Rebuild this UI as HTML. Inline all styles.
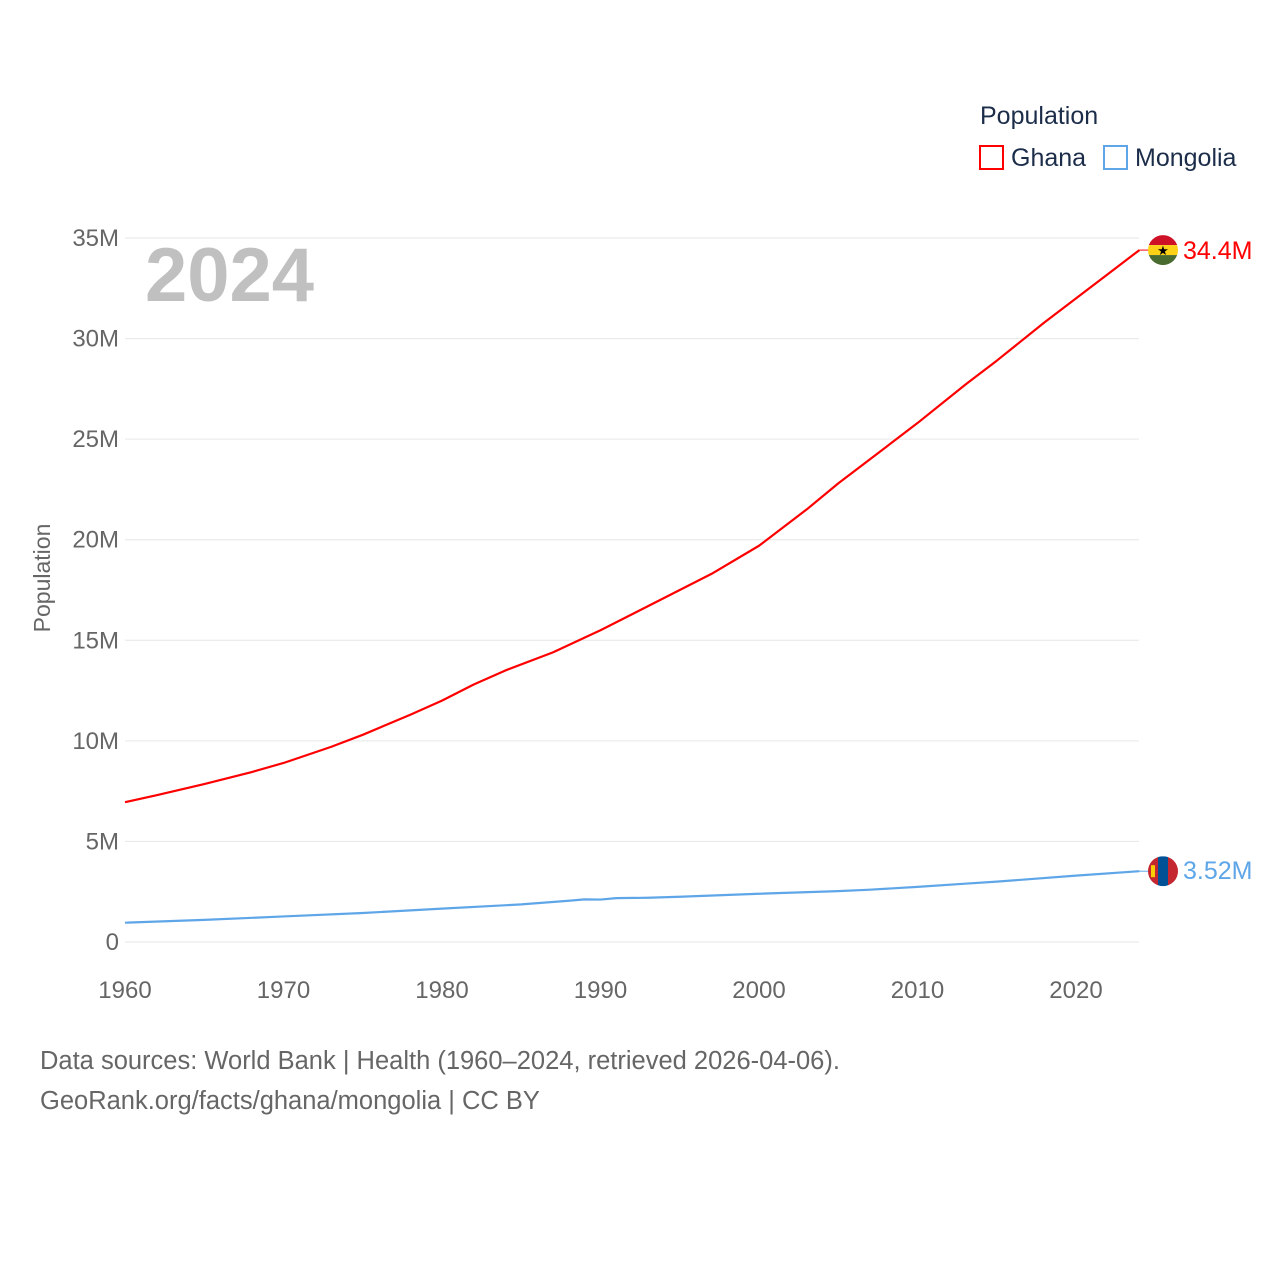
<!DOCTYPE html>
<html><head><meta charset="utf-8"><style>
html,body{margin:0;padding:0;background:#fff;}
svg text{font-family:"Liberation Sans",sans-serif;}
</style></head><body>
<svg id="chart" width="1280" height="1280" viewBox="0 0 1280 1280" xmlns="http://www.w3.org/2000/svg">
<text x="980" y="124" font-size="25" fill="#1c2d4a">Population</text>
<g>
<rect x="980" y="146" width="23" height="23" fill="none" stroke="#ff0000" stroke-width="2"/>
<text x="1011" y="166" font-size="25" fill="#1c2d4a">Ghana</text></g>
<g>
<rect x="1104" y="146" width="23" height="23" fill="none" stroke="#5ea6e8" stroke-width="2"/>
<text x="1135" y="166" font-size="25" fill="#1c2d4a">Mongolia</text></g>
<g id="grid"></g><g id="xt"></g>
<text x="145" y="301" font-size="76" font-weight="bold" fill="#c0c0c0">2024</text>
<text transform="translate(50,578) rotate(-90)" text-anchor="middle" font-size="23" fill="#666">Population</text>
<g id="lines"></g>
<text x="40" y="1069" font-size="25.5" fill="#666">Data sources: World Bank | Health (1960–2024, retrieved 2026-04-06).</text>
<text x="40" y="1109" font-size="25.5" fill="#666">GeoRank.org/facts/ghana/mongolia | CC BY</text>
</svg>
<script>
const yTicks=[0,5,10,15,20,25,30,35];
const yTickLabels=["0","5M","10M","15M","20M","25M","30M","35M"];
const xTicks=[1960,1970,1980,1990,2000,2010,2020];
const ghanaYears=[1960,1962,1965,1968,1970,1973,1975,1978,1980,1982,1984,1987,1990,1993,1995,1997,2000,2003,2005,2008,2010,2013,2015,2018,2020,2022,2024];
const ghanaVals=[6.95,7.3,7.85,8.45,8.9,9.7,10.3,11.3,12.0,12.8,13.5,14.4,15.5,16.7,17.5,18.3,19.7,21.5,22.8,24.6,25.8,27.7,28.9,30.8,32.0,33.2,34.4];
const mongoliaYears=[1960,1965,1970,1975,1980,1985,1988,1989,1990,1991,1993,1995,2000,2005,2007,2010,2013,2015,2020,2024];
const mongoliaVals=[0.96,1.1,1.27,1.44,1.66,1.87,2.05,2.12,2.11,2.18,2.2,2.25,2.4,2.53,2.6,2.74,2.9,3.0,3.3,3.52];
const NS="http://www.w3.org/2000/svg";
const X=y=>125+(y-1960)*(1076-125)/60;
const Y=v=>942-v*(942-238)/35;
function mk(t,a,p){const e=document.createElementNS(NS,t);for(const k in a)e.setAttribute(k,a[k]);p.appendChild(e);return e;}
const grid=document.getElementById('grid');
yTicks.forEach((v,i)=>{
 const l=mk('line',{x1:125,x2:1139,y1:Y(v),y2:Y(v),stroke:'#e6e6e6','stroke-width':1},grid);
 
 
 const t=mk('text',{x:119,y:Y(v)+8,'text-anchor':'end','font-size':24,fill:'#666'},grid);
 t.textContent=yTickLabels[i];
 
 
});
const xt=document.getElementById('xt');
xTicks.forEach(v=>{
 const t=mk('text',{x:X(v),y:998,'text-anchor':'middle','font-size':24,fill:'#666'},xt);
 t.textContent=v;
 
 
});
const lines=document.getElementById('lines');
function series(ys,vs,col,name){
 const p=mk('polyline',{points:ys.map((y,i)=>X(y)+','+Y(vs[i])).join(' '),fill:'none',stroke:col,'stroke-width':2.2,'stroke-linejoin':'round'},lines);
 
 
 return [X(ys[ys.length-1]),Y(vs[vs.length-1])];
}
const g=series(ghanaYears,ghanaVals,'#ff0000','ghana');
const m=series(mongoliaYears,mongoliaVals,'#5ea6e8','mongolia');
const fx=1163;
mk('line',{x1:g[0],y1:g[1],x2:fx-15,y2:g[1],stroke:'#ff0000','stroke-width':1},lines);
const cg=mk('clipPath',{id:'cg'},lines);mk('circle',{cx:fx,cy:g[1],r:15},cg);
const fg=mk('g',{'clip-path':'url(#cg)'},lines);


mk('rect',{x:fx-15,y:g[1]-15,width:30,height:10,fill:'#ce1126'},fg);
mk('rect',{x:fx-15,y:g[1]-5,width:30,height:10,fill:'#fcd116'},fg);
mk('rect',{x:fx-15,y:g[1]+5,width:30,height:10,fill:'#4a6b2f'},fg);
const st=mk('text',{x:fx,y:g[1]+5,'text-anchor':'middle','font-size':13,fill:'#000'},fg);st.textContent='★';
const gl=mk('text',{x:1183,y:g[1]+9,'font-size':25,fill:'#ff0000'},lines);gl.textContent='34.4M';


mk('line',{x1:m[0],y1:m[1],x2:fx-15,y2:m[1],stroke:'#5ea6e8','stroke-width':1},lines);
const cm=mk('clipPath',{id:'cm'},lines);mk('circle',{cx:fx,cy:m[1],r:15},cm);
const fm=mk('g',{'clip-path':'url(#cm)'},lines);


mk('rect',{x:fx-15,y:m[1]-15,width:10,height:30,fill:'#c4272f'},fm);
mk('rect',{x:fx-5,y:m[1]-15,width:10,height:30,fill:'#015197'},fm);
mk('rect',{x:fx+5,y:m[1]-15,width:10,height:30,fill:'#c4272f'},fm);
mk('rect',{x:fx-12,y:m[1]-6,width:4,height:12,fill:'#f9cf02'},fm);
const ml=mk('text',{x:1183,y:m[1]+8,'font-size':25,fill:'#5ea6e8'},lines);ml.textContent='3.52M';


</script>
</body></html>
